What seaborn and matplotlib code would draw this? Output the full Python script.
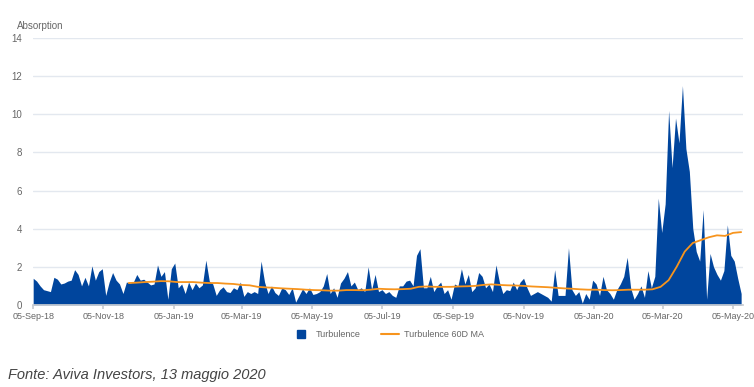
import numpy as np
import pandas as pd
import matplotlib
matplotlib.use('Agg')
import matplotlib.pyplot as plt
from matplotlib.lines import Line2D
import seaborn as sns

# turbulence, read every 3 days from 05-Sep-18 to 12-May-20
turb_start = '2018-09-05'
turbulence = [
    1.4, 1.25, 1.0, 0.8, 0.75, 0.7, 1.45, 1.35, 1.1, 1.15,
    1.25, 1.3, 1.85, 1.6, 1.0, 1.45, 1.0, 2.05, 1.3, 1.75,
    1.9, 0.5, 1.2, 1.7, 1.3, 1.1, 0.6, 1.2, 1.15, 1.2,
    1.6, 1.3, 1.35, 1.2, 1.05, 1.1, 2.1, 1.5, 1.75, 0.3,
    1.9, 2.2, 0.9, 1.1, 0.6, 1.2, 0.8, 1.15, 0.9, 1.05,
    2.35, 1.25, 1.1, 0.5, 0.8, 0.95, 0.7, 0.65, 0.9, 0.8,
    1.2, 0.45, 0.7, 0.6, 0.7, 0.6, 2.3, 1.2, 0.6, 1.0,
    0.65, 0.5, 0.9, 0.8, 0.55, 0.9, 0.15, 0.5, 0.85, 0.6,
    0.9, 0.55, 0.6, 0.7, 1.0, 1.65, 0.6, 0.9, 0.4, 1.15,
    1.4, 1.75, 1.0, 1.2, 0.8, 0.9, 0.7, 2.0, 0.8, 1.6,
    0.7, 0.8, 0.6, 0.7, 0.5, 0.4, 1.0, 1.0, 1.25, 1.3,
    1.0, 2.6, 2.95, 0.9, 0.9, 1.5, 0.7, 1.0, 1.2, 0.6,
    0.8, 0.3, 1.1, 1.0, 1.9, 1.1, 1.6, 0.7, 0.9, 1.7,
    1.5, 0.9, 1.1, 0.7, 2.1, 1.2, 0.6, 0.8, 0.75, 1.2,
    0.8, 1.2, 1.4, 0.9, 0.5, 0.6, 0.7, 0.6, 0.5, 0.4,
    0.2, 1.85, 0.5, 0.5, 0.5, 3.0, 0.8, 0.5, 0.7, 0.1,
    0.6, 0.3, 1.3, 1.1, 0.5, 1.5, 0.8, 0.6, 0.3, 0.8,
    1.1, 1.5, 2.5, 0.9, 0.3, 0.6, 1.0, 0.4, 1.8, 0.9,
    1.5, 5.6, 3.8, 5.3, 10.2, 7.2, 9.8, 8.5, 11.5, 8.2,
    7.0, 4.0, 2.8, 2.3, 5.0, 0.3, 2.7, 2.0, 1.6, 1.3,
    1.8, 4.2, 2.6, 2.3, 1.4, 0.6,
]

# 60-day moving average, read weekly from 27-Nov-18
ma_start = '2018-11-27'
turbulence_ma = [
    1.15, 1.17, 1.2, 1.22, 1.25, 1.24, 1.2, 1.2, 1.2, 1.17,
    1.15, 1.15, 1.12, 1.1, 1.05, 1.03, 0.95, 0.92, 0.9, 0.87,
    0.85, 0.83, 0.8, 0.78, 0.77, 0.75, 0.75, 0.78, 0.78, 0.77,
    0.8, 0.85, 0.83, 0.82, 0.83, 0.85, 0.95, 0.97, 0.95, 0.95,
    0.95, 0.97, 0.98, 1.0, 1.05, 1.08, 1.05, 1.03, 1.02, 1.0,
    0.97, 0.95, 0.93, 0.9, 0.87, 0.85, 0.82, 0.8, 0.8, 0.78,
    0.77, 0.78, 0.8, 0.8, 0.8, 0.82, 0.95, 1.3, 2.0, 2.8,
    3.25, 3.4, 3.55, 3.65, 3.62, 3.78, 3.82,
]

tick_dates = ['2018-09-05', '2018-11-05', '2019-01-05', '2019-03-05',
              '2019-05-05', '2019-07-05', '2019-09-05', '2019-11-05',
              '2020-01-05', '2020-03-05', '2020-05-05']

blue = '#00459d'
orange = '#f7941d'
grey = '#666666'

turb = pd.DataFrame({
    'date': pd.date_range(turb_start, periods=len(turbulence), freq='3D'),
    'value': turbulence,
})
ma = pd.DataFrame({
    'date': pd.date_range(ma_start, periods=len(turbulence_ma), freq='7D'),
    'value': turbulence_ma,
})

sns.set_theme(style='white')
plt.rcParams['font.family'] = ['Liberation Sans', 'DejaVu Sans']

fig = plt.figure(figsize=(7.54, 3.87), dpi=100)
ax = fig.add_axes([0.044, 0.212, 0.942, 0.69])

ax.fill_between(turb['date'], 0, turb['value'], color=blue, lw=0)
sns.lineplot(data=ma, x='date', y='value', ax=ax, color=orange, lw=1.3,
             legend=False)

ax.set_ylim(0, 14)
ax.set_yticks(range(0, 15, 2))
ax.set_xlim(pd.Timestamp('2018-09-05'), pd.Timestamp('2020-05-14'))
ticks = pd.to_datetime(tick_dates)
ax.set_xticks(ticks)
ax.set_xticklabels([t.strftime('%d-%b-%y') for t in ticks])
ax.grid(axis='y', color='#e3e8ef', lw=1)
ax.set_axisbelow(True)
ax.set_xlabel('')
ax.set_ylabel('')

for s in ['top', 'right', 'left']:
    ax.spines[s].set_visible(False)
ax.spines['bottom'].set_color('#c8ccd2')
ax.tick_params(axis='x', length=3, color='#c8ccd2', colors=grey,
               labelsize=6.5, pad=2, bottom=True)
ax.tick_params(axis='y', length=0, colors=grey, labelsize=7, pad=8)

fig.text(0.022, 0.925, 'Absorption', fontsize=7, color=grey)

handles = [
    Line2D([], [], marker='s', ls='', color=blue, markersize=6),
    Line2D([], [], color=orange, lw=1.5),
]
ax.legend(handles, ['Turbulence', 'Turbulence 60D MA'],
          loc='upper center', bbox_to_anchor=(0.5, -0.065), ncol=2,
          frameon=False, fontsize=6.5, labelcolor=grey, handlelength=2.0,
          columnspacing=2.2, handletextpad=0.6)

fig.text(0.01, 0.02, 'Fonte: Aviva Investors, 13 maggio 2020',
         fontsize=10.5, style='italic', color='#444444')

fig.savefig('out.png', dpi=100)
